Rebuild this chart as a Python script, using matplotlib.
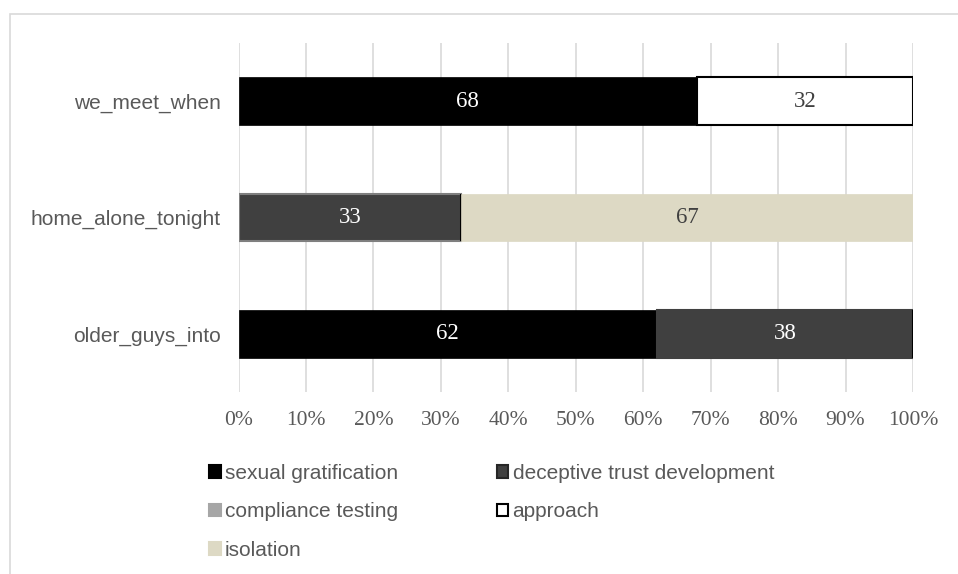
import matplotlib.pyplot as plt
from matplotlib.patches import Rectangle

# categories bottom -> top
cats = ['older_guys_into', 'home_alone_tonight', 'we_meet_when']
sexual = [62, 0, 68]
deceptive = [38, 33, 0]
compliance = [0, 0, 0]
approach = [0, 0, 32]
isolation = [0, 67, 0]
ticks = [0, 10, 20, 30, 40, 50, 60, 70, 80, 90, 100]

series = [
    ('sexual gratification', sexual, '#000000', '#000000', 'white'),
    ('deceptive trust development', deceptive, '#404040', '#262626', 'white'),
    ('compliance testing', compliance, '#a6a6a6', '#a6a6a6', '#404040'),
    ('approach', approach, '#ffffff', '#000000', '#404040'),
    ('isolation', isolation, '#ddd9c4', '#ddd9c4', '#404040'),
]

fig = plt.figure(figsize=(9.58, 5.74), dpi=100)
fig.patches.append(Rectangle((10 / 958, -0.1), 1.2, 1 - 14 / 574 + 0.1,
                             transform=fig.transFigure, fill=False,
                             edgecolor='#d9d9d9', linewidth=1.2))
ax = fig.add_axes([238.5 / 958, 1 - 392 / 574, (913 - 238.5) / 958, 349 / 574])

y = list(range(len(cats)))
left = [0] * len(cats)
handles = []
for name, vals, fc, ec, tc in series:
    if name == 'deceptive trust development':
        edges = [fc, '#7f7f7f', fc]
        lw = 1.5
    elif name == 'approach':
        edges = ec
        lw = 1.5
    else:
        edges = fc
        lw = 0.5
    bars = ax.barh(y, vals, left=left, height=0.41, color=fc,
                   edgecolor=edges, linewidth=lw, zorder=3)
    for b, v, l in zip(bars, vals, left):
        if v > 0:
            ax.text(l + v / 2, b.get_y() + b.get_height() / 2, str(v),
                    ha='center', va='center', color=tc, fontsize=16.5,
                    family='Liberation Serif', zorder=4)
    h = Rectangle((0, 0), 1, 1, facecolor=fc,
                  edgecolor=ec if name in ('approach', 'deceptive trust development') else fc,
                  linewidth=1.5)
    handles.append((h, name))
    left = [a + b for a, b in zip(left, vals)]

ax.set_xlim(0, 100)
ax.set_ylim(-0.5, 2.5)
ax.set_xticks(ticks)
ax.set_xticklabels(['{}%'.format(t) for t in ticks], family='Liberation Serif',
                   fontsize=15.5, color='#595959')
ax.set_yticks(y)
ax.set_yticklabels(cats, family='Liberation Sans', fontsize=15, color='#595959')
ax.tick_params(length=0)
ax.tick_params(axis='x', pad=14)
ax.tick_params(axis='y', pad=13)
ax.grid(axis='x', color='#d9d9d9', linewidth=1.2, zorder=0)
for s in ax.spines.values():
    s.set_visible(False)

# column-first fill: col1 = sexual, compliance, isolation; col2 = deceptive, approach
order = [0, 2, 4, 1, 3]
leg = fig.legend([handles[i][0] for i in order], [handles[i][1] for i in order],
                 ncol=2, loc='upper left', bbox_to_anchor=(209 / 958, 1 - 464 / 574),
                 frameon=False, handlelength=0.57, handleheight=0.57,
                 handletextpad=0.2, columnspacing=4.72, labelspacing=0.93,
                 borderaxespad=0, borderpad=0,
                 prop={'family': 'Liberation Sans', 'size': 15})
for t in leg.get_texts():
    t.set_color('#595959')

plt.savefig('out.png', dpi=100)
